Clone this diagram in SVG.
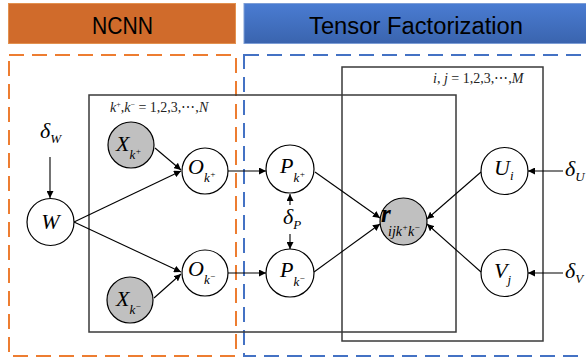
<svg xmlns="http://www.w3.org/2000/svg" width="586" height="360" viewBox="0 0 586 360">
<defs>
<linearGradient id="blueg" x1="0" y1="0" x2="0" y2="1">
<stop offset="0" stop-color="#4A7CD2"/>
<stop offset="1" stop-color="#3A64AE"/>
</linearGradient>
<marker id="ah" viewBox="0 0 10 10" refX="10" refY="5" markerWidth="7" markerHeight="7" markerUnits="userSpaceOnUse" orient="auto">
<path d="M0,0 L10,5 L0,10 z" fill="#000"/>
</marker>
</defs>
<style>
.node{fill:#fff;stroke:#000;stroke-width:1.2}
.obs{fill:#C0C0C0;stroke:#000;stroke-width:1.2}
.plate{fill:none;stroke:#3a3a3a;stroke-width:1.5}
.edge{stroke:#000;stroke-width:1.1;fill:none;marker-end:url(#ah)}
.m{font-family:"Liberation Serif","DejaVu Serif",serif;font-style:italic;fill:#000}
.big{font-size:22px}
.sub{font-size:13px}
.sup{font-size:9px}
.lab{font-family:"Liberation Serif","DejaVu Serif",serif;font-size:14px;fill:#222}
.hdr{font-family:"Liberation Sans","Arial",sans-serif;font-size:23px;fill:#000}
</style>
<rect width="586" height="360" fill="#fff"/>
<g id="headers">
<rect x="8.5" y="3.5" width="227" height="40" fill="#D06B2B" stroke="#E3914F" stroke-width="1"/>
<text class="hdr" x="92" y="34" textLength="61" lengthAdjust="spacingAndGlyphs">NCNN</text>
<rect x="244" y="3.5" width="350" height="40" fill="url(#blueg)" stroke="#7C9DD6" stroke-width="1"/>
<text class="hdr" x="309" y="34" textLength="214" lengthAdjust="spacingAndGlyphs">Tensor Factorization</text>
</g>
<g id="regions">
<rect x="9" y="55" width="227" height="301" fill="none" stroke="#ED7D31" stroke-width="2" stroke-dasharray="15 8"/>
<rect x="244" y="55" width="350" height="301" fill="none" stroke="#4472C4" stroke-width="2" stroke-dasharray="15 8"/>
</g>
<g id="plates">
<rect class="plate" x="89" y="95" width="367" height="237"/>
<rect class="plate" x="342" y="67" width="201" height="274"/>
<text class="lab" x="110" y="112"><tspan font-style="italic">k</tspan><tspan font-size="8" dy="-5">+</tspan><tspan dy="5">,</tspan><tspan font-style="italic">k</tspan><tspan font-size="8" dy="-5">−</tspan><tspan dy="5"> = 1,2,3,⋯,</tspan><tspan font-style="italic">N</tspan></text>
<text class="lab" x="433" y="83"><tspan font-style="italic">i</tspan>, <tspan font-style="italic">j</tspan> = 1,2,3,⋯,<tspan font-style="italic">M</tspan></text>
</g>
<g id="connectors">
<line class="edge" x1="50" y1="157" x2="50" y2="198"/>
<line class="edge" x1="74" y1="222" x2="181" y2="171"/>
<line class="edge" x1="74" y1="222" x2="181" y2="272"/>
<line class="edge" x1="155" y1="148" x2="181" y2="170"/>
<line class="edge" x1="154" y1="298" x2="181" y2="274"/>
<line class="edge" x1="228" y1="171" x2="266" y2="171"/>
<line class="edge" x1="228" y1="273" x2="266" y2="273"/>
<line class="edge" x1="290" y1="205" x2="290" y2="194"/>
<line class="edge" x1="290" y1="234" x2="290" y2="249"/>
<line class="edge" x1="315" y1="172" x2="380" y2="218"/>
<line class="edge" x1="314" y1="272" x2="380" y2="224"/>
<line class="edge" x1="481" y1="172" x2="427" y2="219"/>
<line class="edge" x1="481" y1="272" x2="427" y2="224"/>
<line class="edge" x1="563" y1="171" x2="528" y2="171"/>
<line class="edge" x1="563" y1="273" x2="528" y2="273"/>
</g>
<g id="deltaW"><text class="m big" x="40" y="138">δ<tspan class="sub" dy="5">W</tspan></text></g>
<g id="W"><circle class="node" cx="50.5" cy="222" r="23.5"/><text class="m big" x="50.5" y="229" text-anchor="middle">W</text></g>
<g id="Xkp"><circle class="obs" cx="131" cy="145" r="23"/><text class="m big" x="116" y="151">X<tspan class="sub" dy="8">k</tspan><tspan class="sup" dy="-5">+</tspan></text></g>
<g id="Xkm"><circle class="obs" cx="130" cy="300" r="23"/><text class="m big" x="116" y="306">X<tspan class="sub" dy="8">k</tspan><tspan class="sup" dy="-5">−</tspan></text></g>
<g id="Okp"><circle class="node" cx="205" cy="171" r="23"/><text class="m big" x="188" y="174">O<tspan class="sub" dy="8">k</tspan><tspan class="sup" dy="-5">+</tspan></text></g>
<g id="Okm"><circle class="node" cx="205" cy="273" r="23"/><text class="m big" x="188" y="276">O<tspan class="sub" dy="8">k</tspan><tspan class="sup" dy="-5">−</tspan></text></g>
<g id="Pkp"><circle class="node" cx="290" cy="169" r="24"/><text class="m big" x="280" y="173">P<tspan class="sub" dy="9">k</tspan><tspan class="sup" dy="-5">+</tspan></text></g>
<g id="Pkm"><circle class="node" cx="290" cy="273" r="24"/><text class="m big" x="280" y="277">P<tspan class="sub" dy="9">k</tspan><tspan class="sup" dy="-5">−</tspan></text></g>
<g id="deltaP"><text class="m big" x="283" y="224">δ<tspan class="sub" dy="5">P</tspan></text></g>
<g id="r"><circle class="obs" cx="403.5" cy="221.5" r="23.5"/><text class="m" font-size="25" font-weight="bold" x="381" y="222">r</text><text class="m" font-size="14" x="388" y="236">ijk<tspan class="sup" dy="-6">+</tspan><tspan dy="6">k</tspan><tspan class="sup" dy="-6">−</tspan></text></g>
<g id="Ui"><circle class="node" cx="504.5" cy="171" r="23.5"/><text class="m big" x="494" y="175">U<tspan class="sub" dy="5">i</tspan></text></g>
<g id="Vj"><circle class="node" cx="504.5" cy="273" r="23.5"/><text class="m big" x="494" y="278">V<tspan class="sub" dy="6">j</tspan></text></g>
<g id="deltaU"><text class="m big" x="565" y="176">δ<tspan class="sub" dy="5">U</tspan></text></g>
<g id="deltaV"><text class="m big" x="565" y="278">δ<tspan class="sub" dy="5">V</tspan></text></g>
</svg>
